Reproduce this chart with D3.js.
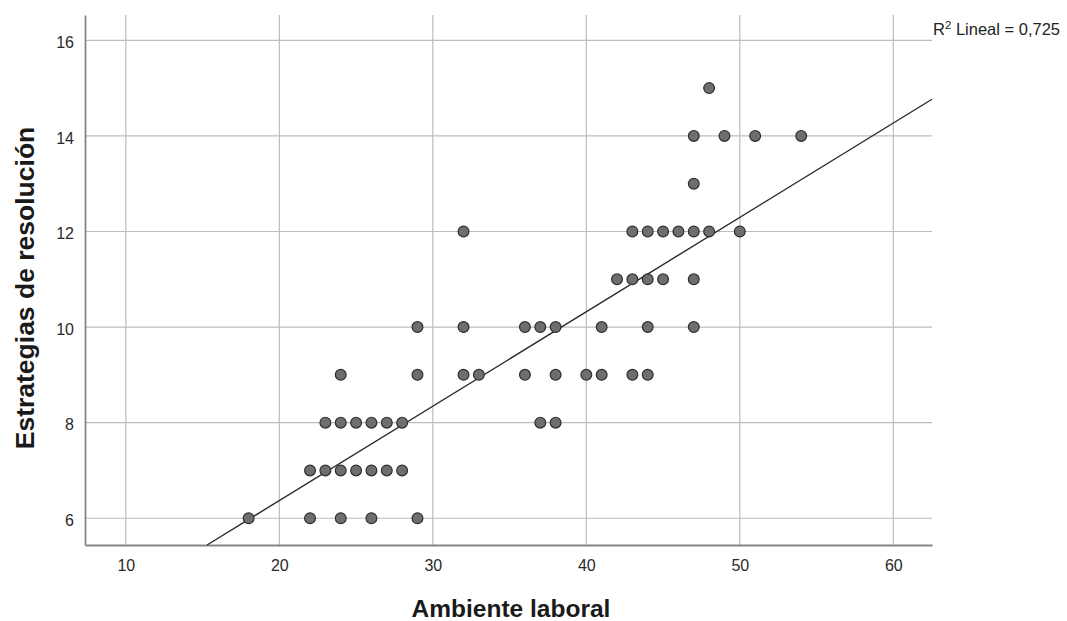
<!DOCTYPE html>
<html>
<head>
<meta charset="utf-8">
<script src="https://cdn.jsdelivr.net/npm/d3@7"></script>
<style>
  body { margin: 0; background: #fff; }
  text { font-family: Arial, "Liberation Sans", sans-serif; }
</style>
</head>
<body>
<div id="chart"></div>
<script>
// points (Ambiente laboral, Estrategias de resolución)
const ambiente = [
  18, 22, 24, 26, 29,
  22, 23, 24, 25, 26, 27, 28,
  23, 24, 25, 26, 27, 28, 37, 38,
  24, 29, 32, 33, 36, 38, 40, 41, 43, 44,
  29, 32, 36, 37, 38, 41, 44, 47,
  42, 43, 44, 45, 47,
  32, 43, 44, 45, 46, 47, 48, 50,
  47,
  47, 49, 51, 54,
  48
]
const estrategias = [
  6, 6, 6, 6, 6,
  7, 7, 7, 7, 7, 7, 7,
  8, 8, 8, 8, 8, 8, 8, 8,
  9, 9, 9, 9, 9, 9, 9, 9, 9, 9,
  10, 10, 10, 10, 10, 10, 10, 10,
  11, 11, 11, 11, 11,
  12, 12, 12, 12, 12, 12, 12, 12,
  13,
  14, 14, 14, 14,
  15
]
const xTicks = [10, 20, 30, 40, 50, 60]
const yTicks = [6, 8, 10, 12, 14, 16]
// linear fit as drawn in the reference
const fitIntercept = 2.42
const fitSlope = 0.1975
const r2Text = "0,725"

const width = 1067, height = 621
const margin = { top: 15, right: 135, bottom: 76, left: 85 }

const svg = d3.select("#chart").append("svg")
  .attr("width", width)
  .attr("height", height)

const x = d3.scaleLinear()
  .domain([7.34, 62.52])
  .range([margin.left, width - margin.right])

const y = d3.scaleLinear()
  .domain([5.44, 16.53])
  .range([height - margin.bottom, margin.top])

// grid
svg.append("g")
  .selectAll("line")
  .data(xTicks)
  .join("line")
  .attr("x1", d => x(d)).attr("x2", d => x(d))
  .attr("y1", y.range()[0]).attr("y2", y.range()[1])
  .attr("stroke", "#bdbdbd").attr("stroke-width", 1.2)

svg.append("g")
  .selectAll("line")
  .data(yTicks)
  .join("line")
  .attr("x1", x.range()[0]).attr("x2", x.range()[1])
  .attr("y1", d => y(d)).attr("y2", d => y(d))
  .attr("stroke", "#bdbdbd").attr("stroke-width", 1.2)

// axes
const xAxis = svg.append("g")
  .attr("transform", "translate(0," + y.range()[0] + ")")
  .call(d3.axisBottom(x).tickValues(xTicks).tickSize(0).tickPadding(14.5))
xAxis.select(".domain").attr("stroke", "#858585").attr("stroke-width", 1.8)
xAxis.selectAll("text").attr("font-size", 16).attr("fill", "#2a2a2a")

const yAxis = svg.append("g")
  .attr("transform", "translate(" + x.range()[0] + ",0)")
  .call(d3.axisLeft(y).tickValues(yTicks).tickSize(0).tickPadding(11))
yAxis.select(".domain").attr("stroke", "#858585").attr("stroke-width", 1.8)
yAxis.selectAll("text").attr("font-size", 16).attr("dy", "0.45em").attr("fill", "#2a2a2a")

// fit line, clipped to the plot box
const xLo = Math.max(x.domain()[0], (y.domain()[0] - fitIntercept) / fitSlope)
const xHi = Math.min(x.domain()[1], (y.domain()[1] - fitIntercept) / fitSlope)
svg.append("line")
  .attr("x1", x(xLo)).attr("y1", y(fitIntercept + fitSlope * xLo))
  .attr("x2", x(xHi)).attr("y2", y(fitIntercept + fitSlope * xHi))
  .attr("stroke", "#2b2b2b").attr("stroke-width", 1.4)

// points
svg.append("g")
  .selectAll("circle")
  .data(ambiente.map((a, i) => ({ a: a, e: estrategias[i] })))
  .join("circle")
  .attr("cx", d => x(d.a))
  .attr("cy", d => y(d.e))
  .attr("r", 5.4)
  .attr("fill", "#6e6e6e")
  .attr("stroke", "#2e2e2e")
  .attr("stroke-width", 1.2)

// R² label
const r2 = svg.append("text")
  .attr("x", x.range()[1] + 1)
  .attr("y", 35)
  .attr("font-size", 16.5)
  .attr("fill", "#222")
r2.append("tspan").text("R")
r2.append("tspan").attr("dy", -6).attr("font-size", 11.5).text("2")
r2.append("tspan").attr("dy", 6).text(" Lineal = " + r2Text)

// axis titles
svg.append("text")
  .attr("x", 511)
  .attr("y", 617)
  .attr("text-anchor", "middle")
  .attr("font-size", 24.5)
  .attr("font-weight", "bold")
  .attr("fill", "#1a1a1a")
  .text("Ambiente laboral")

svg.append("text")
  .attr("transform", "translate(34,288) rotate(-90)")
  .attr("text-anchor", "middle")
  .attr("font-size", 26.5)
  .attr("font-weight", "bold")
  .attr("fill", "#1a1a1a")
  .text("Estrategias de resolución")
</script>
</body>
</html>
